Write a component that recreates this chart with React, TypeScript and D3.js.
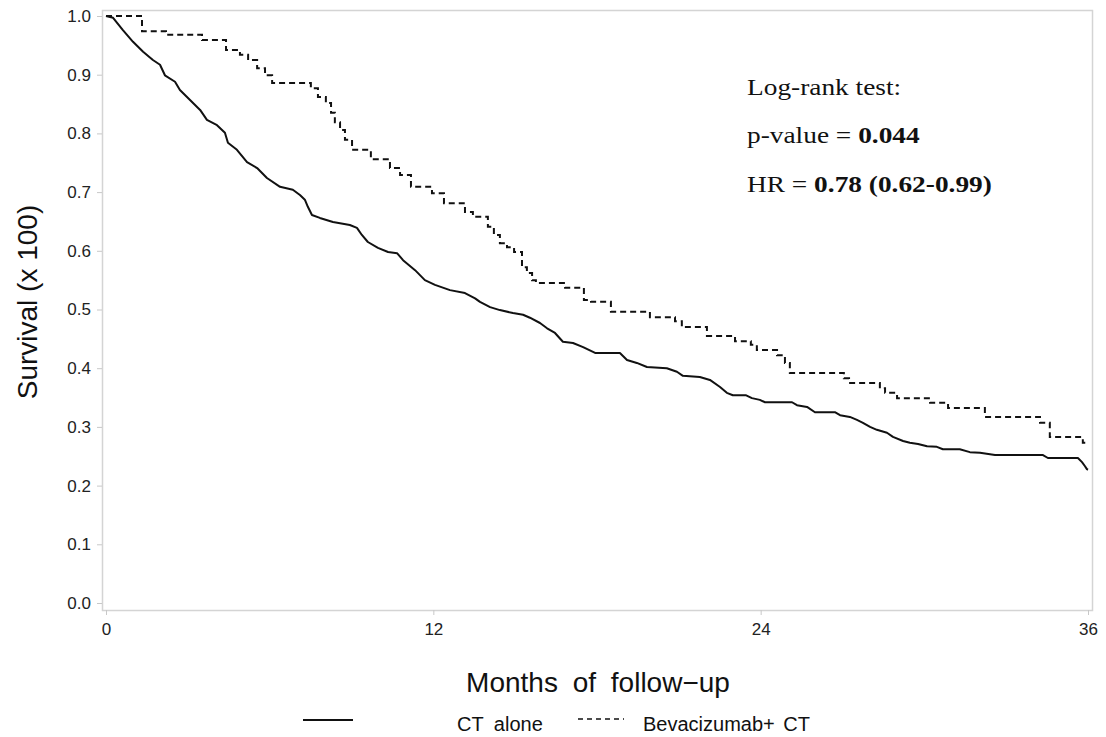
import { useRef, useEffect } from "react";
import * as d3 from "d3";

// CT alone: points (many small events, drawn as a line), [month, survival]
const ctAloneMonths = [0, 0.26, 0.62, 0.99, 1.36, 1.72, 1.98, 2.16, 2.53, 2.71, 3.08, 3.45, 3.7, 4.07, 4.36, 4.47, 4.8, 5.17, 5.54, 5.9, 6.38, 6.85, 7.11, 7.29, 7.4, 7.55, 7.84, 8.32, 8.94, 9.2, 9.38, 9.6, 9.97, 10.34, 10.67, 10.89, 11.33, 11.69, 12.06, 12.61, 13.16, 13.53, 13.71, 14.08, 14.44, 14.92, 15.29, 15.54, 15.91, 16.17, 16.46, 16.75, 17.12, 17.49, 17.93, 18.84, 19.1, 19.46, 19.83, 20.56, 20.93, 21.15, 21.77, 22.14, 22.51, 22.76, 22.98, 23.45, 23.68, 23.97, 24.16, 25.15, 25.33, 25.7, 25.99, 26.72, 26.91, 27.27, 27.53, 27.75, 28.01, 28.26, 28.63, 28.85, 29.22, 29.47, 29.77, 30.1, 30.46, 30.68, 31.3, 31.67, 32.04, 32.59, 34.35, 34.53, 35.63, 35.78, 35.89, 35.96, 36];
const ctAloneSurv = [1.0, 0.997, 0.976, 0.956, 0.939, 0.925, 0.917, 0.899, 0.888, 0.874, 0.857, 0.84, 0.823, 0.814, 0.801, 0.784, 0.772, 0.751, 0.741, 0.724, 0.709, 0.704, 0.695, 0.687, 0.675, 0.661, 0.656, 0.649, 0.644, 0.639, 0.627, 0.615, 0.605, 0.598, 0.596, 0.584, 0.567, 0.55, 0.542, 0.533, 0.528, 0.519, 0.513, 0.504, 0.499, 0.494, 0.491, 0.486, 0.477, 0.468, 0.46, 0.445, 0.443, 0.436, 0.426, 0.426, 0.414, 0.409, 0.402, 0.4, 0.394, 0.387, 0.385, 0.38, 0.368, 0.358, 0.354, 0.354, 0.349, 0.346, 0.342, 0.342, 0.337, 0.334, 0.325, 0.325, 0.32, 0.317, 0.312, 0.307, 0.3, 0.295, 0.29, 0.283, 0.276, 0.273, 0.271, 0.267, 0.266, 0.262, 0.262, 0.257, 0.256, 0.252, 0.252, 0.247, 0.247, 0.24, 0.233, 0.228, 0.227];

// Bevacizumab + CT: Kaplan-Meier steps, [month, survival after drop]
const bevMonths = [0, 1.32, 2.2, 3.52, 4.4, 4.91, 5.21, 5.54, 5.83, 6.09, 7.51, 7.77, 8.06, 8.25, 8.39, 8.58, 8.76, 9.02, 9.71, 10.41, 10.78, 11.18, 11.95, 12.39, 13.16, 13.45, 14.0, 14.22, 14.44, 14.7, 14.96, 15.25, 15.43, 15.62, 15.76, 16.83, 17.52, 17.78, 18.51, 19.94, 20.86, 21.11, 22.03, 23.06, 23.64, 23.86, 24.6, 24.89, 25.07, 27.05, 27.24, 28.37, 28.56, 29.0, 30.21, 30.87, 32.22, 34.24, 34.6, 35.81, 36];
const bevSurv = [1.0, 0.974, 0.968, 0.959, 0.942, 0.934, 0.925, 0.911, 0.899, 0.886, 0.877, 0.862, 0.852, 0.835, 0.819, 0.806, 0.789, 0.772, 0.756, 0.741, 0.729, 0.709, 0.698, 0.681, 0.666, 0.658, 0.641, 0.627, 0.613, 0.606, 0.598, 0.572, 0.562, 0.55, 0.545, 0.537, 0.516, 0.513, 0.496, 0.487, 0.48, 0.47, 0.455, 0.446, 0.44, 0.431, 0.422, 0.409, 0.392, 0.383, 0.375, 0.366, 0.358, 0.349, 0.341, 0.332, 0.317, 0.307, 0.283, 0.273, 0.273];

const xTicks = [0, 12, 24, 36];
const yTicks = [0, 0.1, 0.2, 0.3, 0.4, 0.5, 0.6, 0.7, 0.8, 0.9, 1.0];

const SANS = "'Liberation Sans', Arial, sans-serif";
const SERIF = "'Liberation Serif', 'Times New Roman', serif";

export default function App() {
    const svgRef = useRef<SVGSVGElement>(null);

    useEffect(() => {
        const width = 1106;
        const height = 737;

        const svg = d3.select(svgRef.current)
            .attr("width", width)
            .attr("height", height);
        svg.selectAll("*").remove();

        const x = d3.scaleLinear().domain([0, 36]).range([106, 1088]);
        const y = d3.scaleLinear().domain([0, 1]).range([603, 16]);

        // frame
        svg.append("rect")
            .attr("x", 102.5).attr("y", 10.5)
            .attr("width", 990).attr("height", 600)
            .attr("fill", "none").attr("stroke", "#d4d4d4").attr("stroke-width", 1.5);

        // y axis
        const yAxis = svg.append("g")
            .attr("transform", "translate(102,0)")
            .call(d3.axisLeft(y).tickValues(yTicks).tickSize(5).tickPadding(6).tickFormat(d3.format(".1f")));
        yAxis.select(".domain").remove();
        yAxis.selectAll("line").attr("stroke", "#c8c8c8");
        yAxis.selectAll("text").attr("font-family", SANS).attr("font-size", 17).attr("fill", "#222");

        // x axis
        const xAxis = svg.append("g")
            .attr("transform", "translate(0,610)")
            .call(d3.axisBottom(x).tickValues(xTicks).tickSize(5).tickPadding(8));
        xAxis.select(".domain").remove();
        xAxis.selectAll("line").attr("stroke", "#c8c8c8");
        xAxis.selectAll("text").attr("font-family", SANS).attr("font-size", 17).attr("fill", "#222");

        const ctLine = d3.line<[number, number]>()
            .x(d => x(d[0]))
            .y(d => y(d[1]));
        const stepLine = d3.line<[number, number]>()
            .x(d => x(d[0]))
            .y(d => y(d[1]))
            .curve(d3.curveStepAfter);

        const ctData = ctAloneMonths.map((m, i) => [m, ctAloneSurv[i]] as [number, number]);
        const bevData = bevMonths.map((m, i) => [m, bevSurv[i]] as [number, number]);

        svg.append("path")
            .attr("d", ctLine(ctData))
            .attr("fill", "none").attr("stroke", "#111").attr("stroke-width", 2)
            .attr("stroke-linejoin", "round");

        svg.append("path")
            .attr("d", stepLine(bevData))
            .attr("fill", "none").attr("stroke", "#111").attr("stroke-width", 2)
            .attr("stroke-dasharray", "6,4");

        // axis titles
        svg.append("text")
            .attr("x", 598).attr("y", 692)
            .attr("text-anchor", "middle")
            .attr("font-family", SANS).attr("font-size", 28)
            .attr("word-spacing", 7)
            .attr("fill", "#111")
            .text("Months of follow\u2212up");

        svg.append("text")
            .attr("transform", "translate(37,302) rotate(-90)")
            .attr("text-anchor", "middle")
            .attr("font-family", SANS).attr("font-size", 28)
            .attr("fill", "#111")
            .text("Survival (x 100)");

        // legend
        svg.append("line")
            .attr("x1", 303).attr("x2", 353).attr("y1", 720).attr("y2", 720)
            .attr("stroke", "#111").attr("stroke-width", 2);
        svg.append("text")
            .attr("x", 457).attr("y", 731)
            .attr("font-family", SANS).attr("font-size", 20).attr("word-spacing", 5)
            .attr("fill", "#111")
            .text("CT alone");
        svg.append("line")
            .attr("x1", 578).attr("x2", 624).attr("y1", 719).attr("y2", 719)
            .attr("stroke", "#111").attr("stroke-width", 1.5)
            .attr("stroke-dasharray", "5,4");
        svg.append("text")
            .attr("x", 643).attr("y", 731)
            .attr("font-family", SANS).attr("font-size", 20).attr("word-spacing", 3)
            .attr("fill", "#111")
            .text("Bevacizumab+ CT");

        // log-rank annotation
        const note = svg.append("g")
            .attr("transform", "translate(747,0) scale(1.19,1)")
            .attr("font-family", SERIF).attr("font-size", 23).attr("fill", "#111");
        note.append("text").attr("y", 95).text("Log-rank test:");
        const p = note.append("text").attr("y", 143);
        p.append("tspan").text("p-value = ");
        p.append("tspan").attr("font-weight", "bold").text("0.044");
        const hr = note.append("text").attr("y", 192);
        hr.append("tspan").text("HR = ");
        hr.append("tspan").attr("font-weight", "bold").text("0.78 (0.62-0.99)");
    }, []);

    return (
        <svg ref={svgRef} style={{ position: "absolute", left: 0, top: 0, background: "#fff" }}></svg>
    );
}
